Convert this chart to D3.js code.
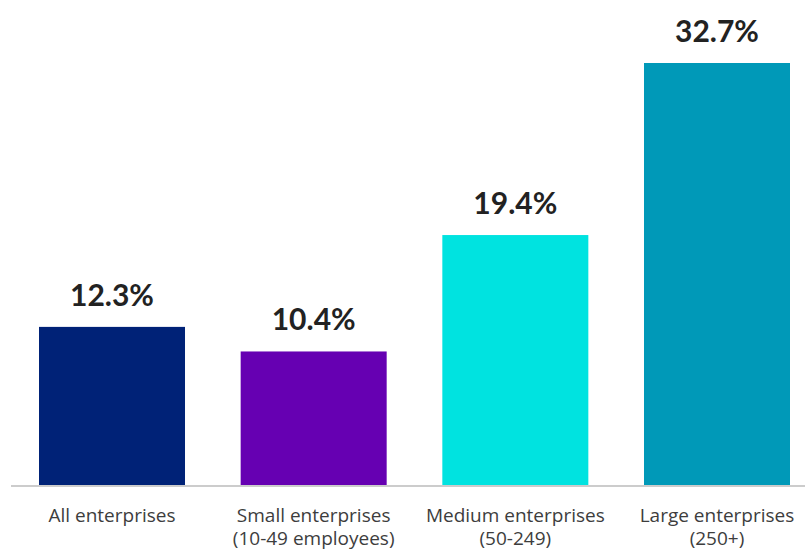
<!DOCTYPE html>
<html><head><meta charset="utf-8">
<script src="https://cdn.jsdelivr.net/npm/d3@7"></script>
<style>
html,body{margin:0;padding:0;background:#fff;}
svg{display:block;}
</style></head>
<body>
<svg id="chart" width="805" height="549"></svg>
<script>
const categories = ["All enterprises", "Small enterprises", "Medium enterprises", "Large enterprises"];
const subLabels = ["", "(10-49 employees)", "(50-249)", "(250+)"];
const values = [12.3, 10.4, 19.4, 32.7];
const colors = ["#002277", "#6600b2", "#00e3e0", "#0099b8"];

const svg = d3.select("#chart");
const x = d3.scaleBand().domain(categories).range([39, 790]).paddingInner(0.276).paddingOuter(0);
const y = d3.scaleLinear().domain([0, d3.max(values)]).range([486, 63]);

const data = categories.map((c, i) => ({c, sub: subLabels[i], v: values[i], col: colors[i]}));

svg.selectAll("rect.bar").data(data).enter().append("rect")
  .attr("class", "bar")
  .attr("x", d => x(d.c))
  .attr("y", d => y(d.v))
  .attr("width", x.bandwidth())
  .attr("height", d => y(0) - y(d.v))
  .attr("fill", d => d.col);

// baseline
svg.append("line")
  .attr("x1", 11).attr("x2", 805)
  .attr("y1", y(0)).attr("y2", y(0))
  .attr("stroke", "#cccccc").attr("stroke-width", 2);

svg.selectAll("text.val").data(data).enter().append("text")
  .attr("class", "val")
  .attr("x", d => x(d.c) + x.bandwidth() / 2)
  .attr("y", d => y(d.v) - 21)
  .attr("text-anchor", "middle")
  .attr("font-family", "Lato, sans-serif")
  .attr("font-weight", "bold")
  .attr("font-size", 30)
  .attr("fill", "#222")
  .text(d => d.v.toFixed(1) + "%");

const lab = svg.selectAll("text.cat").data(data).enter().append("text")
  .attr("class", "cat")
  .attr("x", d => x(d.c) + x.bandwidth() / 2)
  .attr("y", 522)
  .attr("text-anchor", "middle")
  .attr("font-family", "'Open Sans', sans-serif")
  .attr("font-size", 19)
  .attr("fill", "#3d3d3d");
lab.append("tspan").attr("x", d => x(d.c) + x.bandwidth() / 2).attr("dy", 0).text(d => d.c);
lab.append("tspan").attr("x", d => x(d.c) + x.bandwidth() / 2).attr("dy", 23).text(d => d.sub);
</script>
</body></html>
